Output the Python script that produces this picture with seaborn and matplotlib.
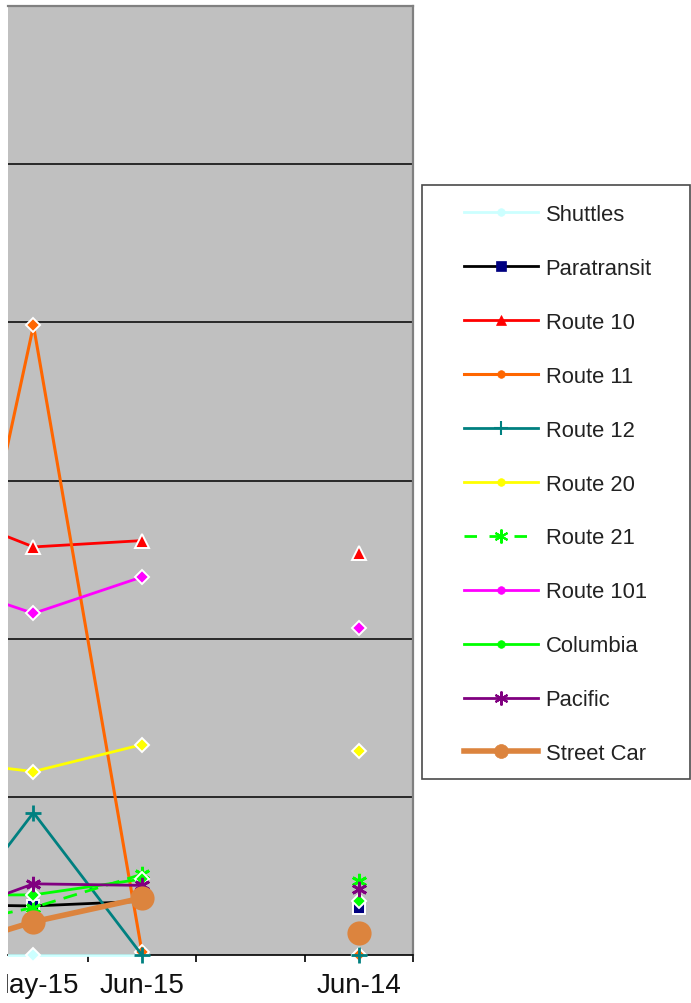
import numpy as np
import pandas as pd
import matplotlib
matplotlib.use("Agg")
import matplotlib.pyplot as plt
import seaborn as sns
from matplotlib.lines import Line2D
from matplotlib.patches import Rectangle
from matplotlib.transforms import Bbox, TransformedBbox

# ---- data (one value per month; NaN = no value) ----
months = ["Apr-15", "May-15", "Jun-15", "", "Jun-14"]
shuttles    = [0.00, 0.00, 0.00, np.nan, 0.00]
paratransit = [0.32, 0.31, 0.34, np.nan, 0.30]
route_10    = [2.85, 2.58, 2.62, np.nan, 2.54]
route_11    = [0.81, 3.98, 0.02, np.nan, 0.00]
route_12    = [0.00, 0.90, 0.00, np.nan, 0.00]
route_20    = [1.24, 1.16, 1.33, np.nan, 1.29]
route_21    = [0.16, 0.30, 0.51, np.nan, 0.47]
route_101   = [2.39, 2.16, 2.39, np.nan, 2.07]
columbia    = [0.38, 0.38, 0.48, np.nan, 0.34]
pacific     = [0.20, 0.45, 0.44, np.nan, 0.42]
street_car  = [0.00, 0.21, 0.36, np.nan, 0.14]

names = ["Shuttles", "Paratransit", "Route 10", "Route 11", "Route 12", "Route 20",
         "Route 21", "Route 101", "Columbia", "Pacific", "Street Car"]
values = [shuttles, paratransit, route_10, route_11, route_12, route_20,
          route_21, route_101, columbia, pacific, street_car]

ASTER = (6, 2, 0)
styles = {
    "Shuttles":    dict(color="#CCFFFF", marker="D", ms=7.0, mfc="#CCFFFF", mec="white", lw=2.0),
    "Paratransit": dict(color="black", marker="s", ms=8.0, mfc="#000080", mec="white", lw=2.0),
    "Route 10":    dict(color="#FF0000", marker="^", ms=10, mfc="#FF0000", mec="white", lw=2.0),
    "Route 11":    dict(color="#FF6600", marker="D", ms=7.5, mfc="#FF6600", mec="white", lw=2.2),
    "Route 12":    dict(color="#008080", marker="+", ms=11, mfc="#008080", mec="#008080", lw=2.0),
    "Route 20":    dict(color="#FFFF00", marker="D", ms=7.5, mfc="#FFFF00", mec="white", lw=2.0),
    "Route 21":    dict(color="#00FF00", marker=ASTER, ms=11, mfc="#00FF00", mec="#00FF00", lw=2.0, ls=(0, (5, 3))),
    "Route 101":   dict(color="#FF00FF", marker="D", ms=7.5, mfc="#FF00FF", mec="white", lw=2.0),
    "Columbia":    dict(color="#00FF00", marker="D", ms=7.5, mfc="#00FF00", mec="white", lw=2.0),
    "Pacific":     dict(color="#800080", marker=ASTER, ms=11, mfc="#800080", mec="#800080", lw=2.0),
    "Street Car":  dict(color="#DC843E", marker="o", ms=16, mfc="#DC843E", mec="#DC843E", lw=4.0),
}

W, H = 691, 1004
fig = plt.figure(figsize=(W / 100, H / 100), dpi=100)
fig.patch.set_facecolor("white")
ax = fig.add_axes([8 / W, 48 / H, 405 / W, 949 / H])
ax.set_facecolor("#C0C0C0")

x_idx = np.arange(len(months))
for z, (name, vals) in enumerate(zip(names, values)):
    st = dict(styles[name])
    ls = st.pop("ls", "-")
    mew = 2.0 if st["marker"] in ("+", ASTER) else 1.4
    df = pd.DataFrame({"x": x_idx, "y": vals})
    seg = df.iloc[:3]
    single = df.iloc[4:5]
    for part in (seg, single):
        sns.lineplot(data=part, x="x", y="y", ax=ax, color=st["color"], linewidth=st["lw"],
                     linestyle=ls, marker=st["marker"], markersize=st["ms"],
                     markerfacecolor=st["mfc"], markeredgecolor=st["mec"],
                     markeredgewidth=mew, zorder=3 + z, legend=False)

# clip lines at left/right edges of the plot, but let markers hang below the axis
clip = TransformedBbox(Bbox([[8 / W, 0.0], [413 / W, 1.0]]), fig.transFigure)
for ln in ax.lines:
    ln.set_clip_box(clip)

ax.set_xlabel("")
ax.set_ylabel("")

# horizontal gridlines
ax.set_yticks([1, 2, 3, 4, 5])
ax.tick_params(axis="y", left=False, labelleft=False)
ax.yaxis.grid(True, color="black", linewidth=1.1)
ax.xaxis.grid(False)
ax.set_axisbelow(True)

# category boundaries as tick marks, month names centred between them
ax.set_xticks([1.5, 2.5, 3.5, 4.5])
ax.set_xticklabels([])
ax.set_xticks(x_idx, minor=True)
ax.set_xticklabels(months, minor=True, fontsize=20, family="Liberation Sans", color="#111111")
ax.tick_params(axis="x", which="major", direction="out", length=5, width=1.2, color="black")
ax.tick_params(axis="x", which="minor", length=0, pad=12)
label_clip = TransformedBbox(Bbox([[7 / W, 0.0], [1.0, 1.0]]), fig.transFigure)
for t in ax.xaxis.get_minor_ticks():
    t.label1.set_clip_box(label_clip)
    t.label1.set_clip_on(True)

# view limits set after the ticks so they are not widened
ax.set_xlim(0.765, 4.5)
ax.set_ylim(0, 6)

ax.spines["left"].set_visible(False)
ax.spines["bottom"].set_color("black")
ax.spines["bottom"].set_linewidth(1.2)
for s in ("top", "right"):
    ax.spines[s].set_color("#808080")
    ax.spines[s].set_linewidth(1.6)

# legend box
fig.add_artist(Rectangle((422 / W, 1 - 780 / H), 268 / W, 594 / H, transform=fig.transFigure,
                         fill=False, edgecolor="#4a4a4a", linewidth=1.2))
handles = []
for name in names:
    st = styles[name]
    mk = st["marker"]
    lg_marker = "o" if mk == "D" else mk
    lg_ms = {"o": 5.5, "s": 7, "^": 6.5, "+": 10, ASTER: 10}.get(lg_marker, 5.5)
    if name == "Street Car":
        lg_ms = 10
    lg_ls = (0, (4.5, 4.5)) if name == "Route 21" else "-"
    handles.append(Line2D([], [], color=st["color"], lw=st["lw"], ls=lg_ls,
                          marker=lg_marker, ms=lg_ms, mfc=st["mfc"], mec=st["mfc"],
                          mew=1.5 if mk in ("+", ASTER) else 0.5))
fig.legend(handles, names, loc="upper left", bbox_to_anchor=(464 / W, 1 - 205 / H),
           frameon=False, borderpad=0, borderaxespad=0, handlelength=3.36,
           handletextpad=0.36, labelspacing=1.50,
           prop=dict(family="Liberation Sans", size=15.8))
for txt in fig.legends[0].get_texts():
    txt.set_color("#222222")

fig.savefig("out.png", dpi=100)
